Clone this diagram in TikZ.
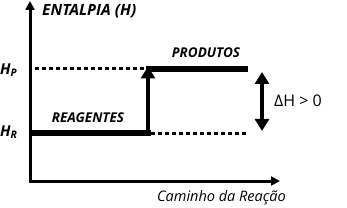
\documentclass[tikz,border=0pt]{standalone}
\usepackage{fontspec}
\setmainfont{Open Sans}
\usetikzlibrary{arrows.meta}
\begin{document}
\begin{tikzpicture}[x=1pt,y=-1pt,
  axis/.style={line width=3pt,-{Triangle[length=9pt,width=9pt]}},
  level/.style={line width=5.5pt},
  dots/.style={line width=3pt,dash pattern=on 4pt off 3pt},
  big/.style={line width=4pt},
  bigtip/.style={Triangle[length=12pt,width=14pt]},
  lab/.style={font=\fontsize{13.5}{15}\selectfont\bfseries\itshape,inner sep=0pt},
  ax/.style={inner sep=0pt,anchor=west}]
\useasboundingbox (0,0) rectangle (347,208);
\coordinate (O) at (30,181);
\coordinate (ytop) at (30,1);
\coordinate (xend) at (280,181);
\draw[axis] (30,182.5) -- (ytop);
\draw[axis] (28.5,181) -- (xend);
\node[ax,font=\fontsize{15.5}{17}\selectfont\bfseries\itshape] (ent) at (42,11) {ENTALPIA (H)};
\node[ax,anchor=east,font=\fontsize{14.5}{16}\selectfont\itshape] (cam) at (286,198) {Caminho da Reação};
% levels
\coordinate (hrL) at (30,133);
\coordinate (hrR) at (151,133);
\coordinate (hpL) at (146,69);
\coordinate (hpR) at (248,69);
\draw[level] (hrL) -- (hrR);
\draw[level] (hpL) -- (hpR);
\coordinate (dpL) at (35,69);
\coordinate (drR) at (248,133);
\draw[dots] (dpL) -- (hpL);
\draw[dots] (hrR) -- (drR);
\draw[big,-{Triangle[length=12pt,width=14pt]}] (148,135.5) -- (148,66.5);
\coordinate (dA) at (262,72);
\coordinate (dB) at (262,131);
\draw[big,{Triangle[length=12pt,width=14pt]}-{Triangle[length=12pt,width=14pt]}] (dA) -- (dB);
\node[lab] (prod) at (206,53) {PRODUTOS};
\node[lab] (reag) at (88,117.5) {REAGENTES};
\node[inner sep=0pt,anchor=west,font=\fontsize{16}{18}\selectfont] (dh) at (274,101) {ΔH > 0};
\node[inner sep=0pt,anchor=west,font=\fontsize{15}{17}\selectfont\bfseries\itshape] (hp) at (0,70) {H\textsubscript{P}};
\node[inner sep=0pt,anchor=west,font=\fontsize{15}{17}\selectfont\bfseries\itshape] (hr) at (0,132) {H\textsubscript{R}};
\end{tikzpicture}
\end{document}
